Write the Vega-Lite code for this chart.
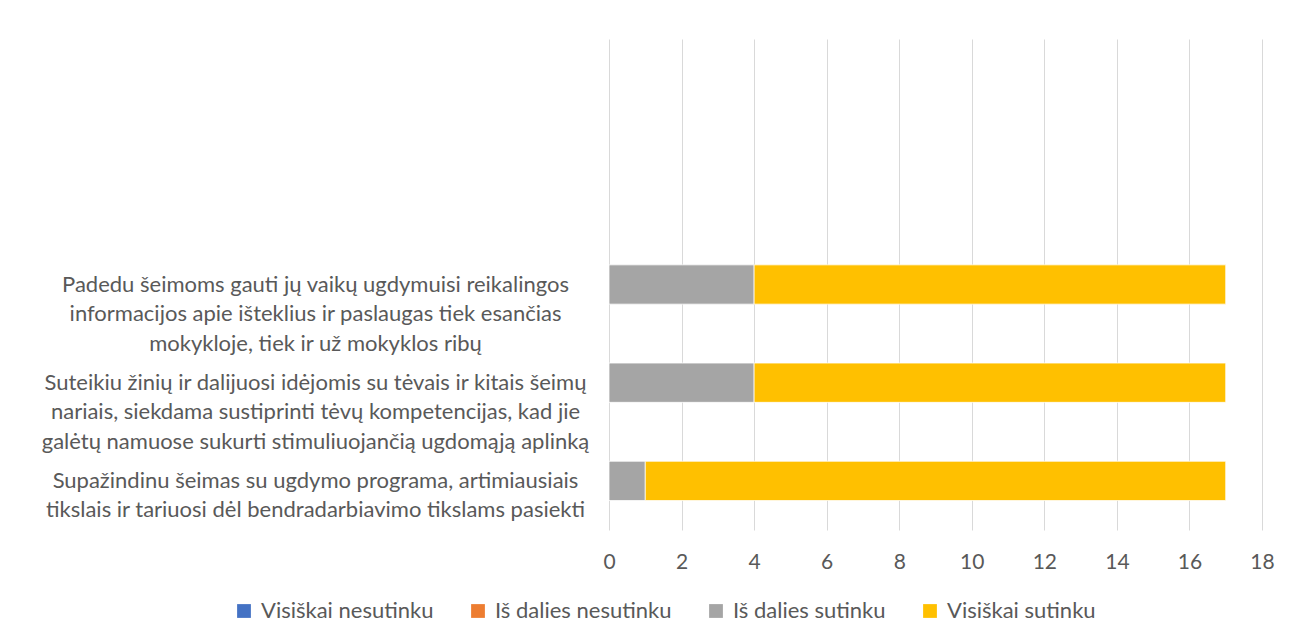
{
  "$schema": "https://vega.github.io/schema/vega-lite/v6.json",
  "width": 653,
  "height": 491,
  "autosize": {"type": "none"},
  "padding": {"left": 609, "top": 39, "right": 35, "bottom": 114},
  "background": "white",
  "config": {
    "view": {"stroke": null},
    "font": "Lato",
    "text": {"font": "Lato"}
  },
  "data": {
    "values": [
      {"q": "Padedu šeimoms gauti jų vaikų ugdymuisi reikalingos|informacijos apie išteklius ir paslaugas tiek esančias|mokykloje, tiek ir už mokyklos ribų", "ans": "Visiškai nesutinku", "n": 0, "o": 1},
      {"q": "Padedu šeimoms gauti jų vaikų ugdymuisi reikalingos|informacijos apie išteklius ir paslaugas tiek esančias|mokykloje, tiek ir už mokyklos ribų", "ans": "Iš dalies nesutinku", "n": 0, "o": 2},
      {"q": "Padedu šeimoms gauti jų vaikų ugdymuisi reikalingos|informacijos apie išteklius ir paslaugas tiek esančias|mokykloje, tiek ir už mokyklos ribų", "ans": "Iš dalies sutinku", "n": 4, "o": 3},
      {"q": "Padedu šeimoms gauti jų vaikų ugdymuisi reikalingos|informacijos apie išteklius ir paslaugas tiek esančias|mokykloje, tiek ir už mokyklos ribų", "ans": "Visiškai sutinku", "n": 13, "o": 4},
      {"q": "Suteikiu žinių ir dalijuosi idėjomis su tėvais ir kitais šeimų|nariais, siekdama sustiprinti tėvų kompetencijas, kad jie|galėtų namuose sukurti stimuliuojančią ugdomąją aplinką", "ans": "Visiškai nesutinku", "n": 0, "o": 1},
      {"q": "Suteikiu žinių ir dalijuosi idėjomis su tėvais ir kitais šeimų|nariais, siekdama sustiprinti tėvų kompetencijas, kad jie|galėtų namuose sukurti stimuliuojančią ugdomąją aplinką", "ans": "Iš dalies nesutinku", "n": 0, "o": 2},
      {"q": "Suteikiu žinių ir dalijuosi idėjomis su tėvais ir kitais šeimų|nariais, siekdama sustiprinti tėvų kompetencijas, kad jie|galėtų namuose sukurti stimuliuojančią ugdomąją aplinką", "ans": "Iš dalies sutinku", "n": 4, "o": 3},
      {"q": "Suteikiu žinių ir dalijuosi idėjomis su tėvais ir kitais šeimų|nariais, siekdama sustiprinti tėvų kompetencijas, kad jie|galėtų namuose sukurti stimuliuojančią ugdomąją aplinką", "ans": "Visiškai sutinku", "n": 13, "o": 4},
      {"q": "Supažindinu šeimas su ugdymo programa, artimiausiais|tikslais ir tariuosi dėl bendradarbiavimo tikslams pasiekti", "ans": "Visiškai nesutinku", "n": 0, "o": 1},
      {"q": "Supažindinu šeimas su ugdymo programa, artimiausiais|tikslais ir tariuosi dėl bendradarbiavimo tikslams pasiekti", "ans": "Iš dalies nesutinku", "n": 0, "o": 2},
      {"q": "Supažindinu šeimas su ugdymo programa, artimiausiais|tikslais ir tariuosi dėl bendradarbiavimo tikslams pasiekti", "ans": "Iš dalies sutinku", "n": 1, "o": 3},
      {"q": "Supažindinu šeimas su ugdymo programa, artimiausiais|tikslais ir tariuosi dėl bendradarbiavimo tikslams pasiekti", "ans": "Visiškai sutinku", "n": 16, "o": 4}
    ]
  },
  "mark": {"type": "bar", "stroke": "white", "strokeWidth": 0.75},
  "encoding": {
    "y": {
      "field": "q",
      "type": "nominal",
      "title": null,
      "scale": {
        "domain": [
          "_1",
          "_2",
          "Padedu šeimoms gauti jų vaikų ugdymuisi reikalingos|informacijos apie išteklius ir paslaugas tiek esančias|mokykloje, tiek ir už mokyklos ribų",
          "Suteikiu žinių ir dalijuosi idėjomis su tėvais ir kitais šeimų|nariais, siekdama sustiprinti tėvų kompetencijas, kad jie|galėtų namuose sukurti stimuliuojančią ugdomąją aplinką",
          "Supažindinu šeimas su ugdymo programa, artimiausiais|tikslais ir tariuosi dėl bendradarbiavimo tikslams pasiekti"
        ],
        "paddingInner": 0.6,
        "paddingOuter": 0.3
      },
      "axis": {
        "domain": false,
        "ticks": false,
        "tickSize": 0,
        "grid": false,
        "labelExpr": "indexof(datum.label, '_') == 0 ? '' : split(datum.label, '|')",
        "labelAlign": "center",
        "labelBaseline": "middle",
        "labelPadding": 294,
        "labelLimit": 700,
        "labelFont": "Lato",
        "labelFontSize": 22,
        "labelLineHeight": 29.5,
        "labelColor": "#595959"
      }
    },
    "x": {
      "field": "n",
      "type": "quantitative",
      "stack": "zero",
      "title": null,
      "scale": {"domain": [0, 18], "nice": false},
      "axis": {
        "values": [0, 2, 4, 6, 8, 10, 12, 14, 16, 18],
        "domain": false,
        "ticks": false,
        "tickSize": 0,
        "grid": true,
        "gridColor": "#D9D9D9",
        "gridWidth": 1,
        "labelPadding": 21,
        "labelFont": "Lato",
        "labelFontSize": 21,
        "labelColor": "#595959",
        "labelFlush": false
      }
    },
    "color": {
      "field": "ans",
      "type": "nominal",
      "scale": {
        "domain": ["Visiškai nesutinku", "Iš dalies nesutinku", "Iš dalies sutinku", "Visiškai sutinku"],
        "range": ["#4472C4", "#ED7D31", "#A5A5A5", "#FFC000"]
      },
      "legend": {
        "title": null,
        "orient": "none",
        "direction": "horizontal",
        "legendX": -376,
        "legendY": 561,
        "padding": 0,
        "symbolType": "square",
        "symbolSize": 190,
        "symbolStrokeWidth": 0,
        "labelFont": "Lato",
        "labelFontSize": 22,
        "labelColor": "#595959",
        "labelOffset": 6,
        "columnPadding": 33,
        "labelLimit": 300
      }
    },
    "order": {"field": "o", "type": "quantitative"}
  }
}
